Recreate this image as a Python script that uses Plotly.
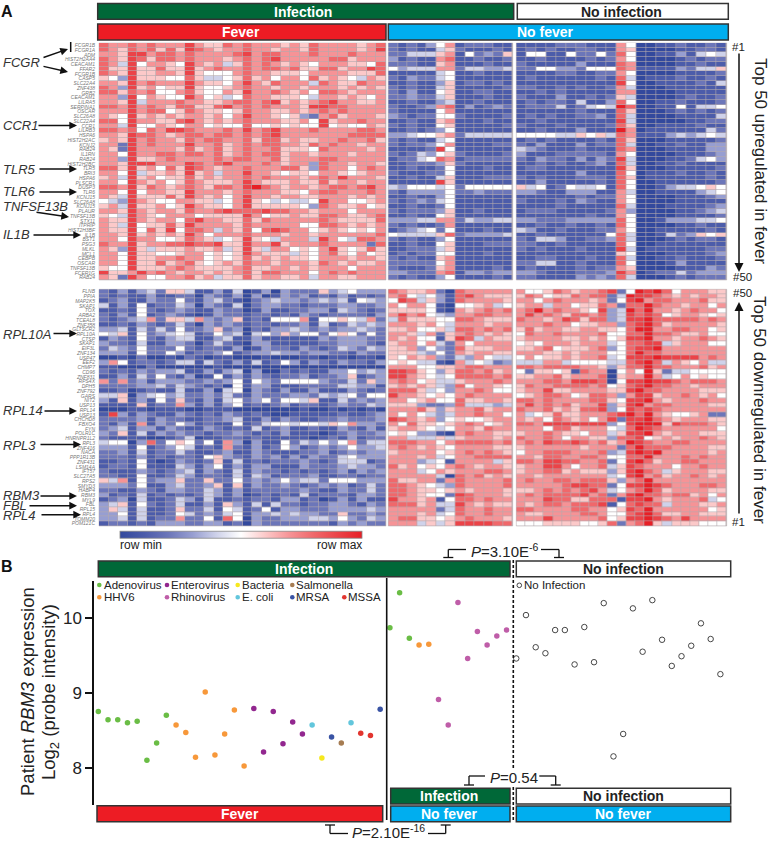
import plotly.graph_objects as go

W, H = 769, 842
FONT = "Liberation Sans"

UP_GENES = ["FCGR1B","FCGR1A","ADM","HIST2H2AA4","CEACAM1","FFAR2","FCGR1B","CASP5","SLC22A4","ZNF438",
            "GRB2","CEACAM1","LILRA5","SERPINA1","OSCAR","SLC26A8","SLC22A4","CCR1","LILRB3","HSPA6",
            "HIST2H2AC","KCNJ2","RAB24","IL1RN","RAB24","HIST2H2BC","TLR5","BRI3","HSPA6","PLSCR1",
            "DUSP3","TLR6","KCNJ15","SLC26A8","KCNJ15","PLAUR","TNFSF13B","STX11","ITPRIP","HIST2H3BF",
            "IL1B","BST1","PSG3","MLKL","MCL1","CEBPB","OSCAR","TNFSF13B","FCER1G","RAB24"]
DOWN_GENES = ["FLNB","PPIA","MAP2K5","SKAP1","TOX","ARBA2","TCEAL8","ZNF358","GLTSCR2","RPL10A",
              "CTSP","SKAP1","EIF3L","ZNF134","USP47","EEF2","CHMP7","CD96","ZNF831","RPS4X",
              "DPH5","ZNF792","GARS","NIT2","USP13","RPL14","USP13","CHCHD8","FBXO4","FYN",
              "POLR1C","HNRNPR1L2","RPL3","ZNF416","NACA","PPP1R13B","ZNF431","LSM14A","IFT57","SLC27A5",
              "RPS2","SMYD3","HABP4","RBM3","MYL9","FBL","RPL15","RPL4","TOMM20","POM121C"]

# Heat levels: 0 = row min (blue), 5 = white, a = row max (red)
UP_FEVER = [
"87787 87779 76687 87776 76877 77678",
"87687 86869 87677 87767 76877 77679",
"77699 78878 77778 97887 77877 78777",
"87698 68878 77767 87897 77778 86777",
"87495 77659 76746 87876 76577 76658",
"86696 68669 67877 87887 86688 67798",
"87696 67769 65557 87766 65777 76668",
"65396 66558 64456 86757 75867 65476",
"77697 87779 76657 97687 77487 66877",
"87396 75669 65567 87767 76777 67676",
"88687 85578 65576 97787 67588 76777",
"77395 76559 75645 87766 65477 67657",
"77694 77787 76678 87896 76789 77667",
"88797 87688 66897 87877 76998 87777",
"77797 88568 76656 87766 76787 87777",
"76596 76767 76757 97765 63278 67776",
"88597 76689 76767 87776 67596 77877",
"77495 57657 75655 85565 65595 65576",
"88785 87998 77787 97897 77877 77887",
"77698 87678 87887 87897 77777 78888",
"67697 87768 78877 86886 76677 87786",
"77297 87779 77867 87887 76878 77677",
"76297 77768 67867 87786 66587 77767",
"77597 78878 87867 87886 77677 76777",
"77396 67877 77878 87786 77788 77777",
"77699 97779 87897 77876 77387 76776",
"88696 75869 87677 87778 86387 75787",
"77594 66769 67477 97765 66577 65677",
"67496 75668 67677 87877 76787 97776",
"77597 67568 76667 97666 76686 77677",
"88796 87678 76887 9a876 77678 87897",
"77595 77669 77767 87776 65788 77787",
"76496 66869 76757 97767 76677 76767",
"54397 65577 66457 96545 44597 75567",
"67496 67569 76657 96666 65387 66756",
"77697 67768 77898 88988 77677 75777",
"65497 65777 56666 97566 76688 76678",
"76697 67758 97766 86877 77787 66668",
"76495 66869 77776 87777 75588 76767",
"76695 86958 87476 85898 77567 65657",
"77696 76769 75777 87776 77677 77778",
"77597 75568 76456 96547 77497 54887",
"87796 77889 88966 97796 77787 77728",
"76396 46667 66746 96477 56579 65686",
"77596 65567 75656 97666 46578 65756",
"77596 67787 75656 86767 66577 76776",
"77596 68678 65676 87767 77687 67667",
"65596 66787 66667 86677 67677 75777",
"96679 78767 76767 86887 77578 78777",
"76297 55778 67466 86776 67477 66777",
]
UP_NOFEVER = [
"21213 57122 211",
"21211 46211 121",
"22444 67152 326",
"31211 78112 112",
"22211 67111 211",
"53444 77244 334",
"11111 45112 111",
"21322 45111 111",
"11211 36122 121",
"21211 46111 112",
"21311 56112 211",
"22322 46111 211",
"11211 34112 111",
"21123 78131 232",
"21111 57111 111",
"32122 55211 112",
"11211 67111 211",
"21211 56111 112",
"11212 35111 111",
"33455 67244 444",
"21211 45111 111",
"21223 57111 122",
"11112 95111 111",
"21243 56211 112",
"12245 87122 222",
"11222 36211 111",
"11211 25111 211",
"21112 25111 111",
"11211 46111 222",
"11111 96111 111",
"43555 45255 555",
"21333 35223 222",
"11211 35111 111",
"21232 45111 111",
"11211 25111 111",
"21222 36112 111",
"11211 56111 111",
"33344 77243 344",
"21211 27111 111",
"12345 25111 211",
"54444 68233 334",
"21211 35111 111",
"11211 56111 222",
"11222 46111 111",
"12122 55111 211",
"21211 67111 111",
"22222 57111 111",
"21112 67111 121",
"33222 78133 233",
"21211 35111 121",
]
UP_NOINF = [
"11112 22111 75 00112 1121",
"12121 12211 76 00001 1221",
"15511 52252 85 00113 1454",
"11211 11212 75 00001 2122",
"21111 13111 87 00001 1211",
"22553 32555 87 11113 2446",
"11112 21122 75 00001 1112",
"12111 11121 84 01112 1121",
"11111 11111 95 00111 1214",
"22112 12112 74 00011 1111",
"11212 11111 77 00001 1111",
"21113 11212 64 00001 2112",
"12122 14113 85 00112 1112",
"12224 12454 a8 00115 1445",
"11111 12111 86 00012 1212",
"12121 12231 84 00001 1114",
"11211 11111 94 00000 1122",
"21112 11112 86 00111 1211",
"11211 13111 a7 01111 1142",
"55554 46564 87 11134 3454",
"12121 11121 86 00011 1112",
"21311 13122 84 00112 1133",
"43211 12111 87 00011 1133",
"31112 22221 75 00001 1123",
"21322 13132 94 00011 2453",
"11212 11231 84 00112 1111",
"12211 11111 96 00011 1112",
"11111 13111 85 01112 1121",
"21211 12221 86 01111 1121",
"11311 11121 85 00111 1112",
"64512 54451 85 00134 4565",
"33211 33311 74 00111 1345",
"11111 12122 75 00001 1123",
"21112 13211 75 00001 1111",
"11112 11111 84 00011 1123",
"12221 11112 73 00001 1234",
"11111 11211 75 00001 1112",
"33222 33333 85 00133 3445",
"11211 21121 85 00001 1211",
"43112 11122 75 00111 1121",
"11211 11115 84 00142 3656",
"21443 11223 84 00012 1221",
"22112 11111 85 00111 1111",
"21211 12111 94 01111 1122",
"11111 11111 65 00011 1123",
"11221 11211 84 00112 1112",
"22441 12111 85 00013 1111",
"12111 12122 76 00001 1132",
"33211 12223 97 01224 2333",
"22111 13232 84 00012 1222",
]
DOWN_FEVER = [
"21313 42664 11314 01303 22263 45333",
"21211 31122 03213 03013 23121 31212",
"12311 32252 13421 02343 32343 41543",
"41315 12243 03214 02332 21222 33223",
"11215 21232 11322 01311 22331 43212",
"21315 12321 01322 12212 13212 22213",
"21234 72664 73236 12155 57155 65472",
"11213 21242 03232 12212 23141 24343",
"33414 24252 23623 02133 43232 33432",
"54615 23454 12534 04536 35525 65252",
"13215 21344 11341 13111 11132 33322",
"32214 11332 02421 03311 11122 33321",
"24325 22252 12213 01322 13212 43243",
"33315 22531 22351 23343 32332 21322",
"00102 00102 10110 00100 01101 10110",
"37512 21244 14213 14125 31321 32213",
"11000 20000 00100 00000 00000 00000",
"21213 23341 13134 03002 12113 35343",
"11314 25213 01513 13212 23122 36123",
"72723 13332 23235 15325 55532 24263",
"22223 34243 21205 13311 12222 44331",
"11201 21141 13045 03213 11311 13212",
"44603 45342 23242 13222 33243 45255",
"31613 15262 13145 23525 54611 42323",
"11116 12273 13135 12123 12212 32243",
"00011 01110 01110 00000 01001 01010",
"19313 21132 12132 12100 11111 21123",
"22223 13221 12234 11313 21122 32223",
"21317 13253 12115 12455 45546 57332",
"23413 31321 13212 14123 11211 32131",
"32614 13232 21223 21213 11101 23223",
"21111 00124 01122 12111 11012 13122",
"45503 82565 25173 03115 24353 57244",
"33315 12354 12172 13125 31232 35334",
"22314 12242 11231 13211 12231 23233",
"22213 12122 15632 13231 31322 45333",
"11215 10132 12614 12122 23212 44412",
"12215 11143 13513 13311 13222 34332",
"21113 21234 13214 13221 21212 31323",
"22115 11243 12214 14312 22311 22122",
"64715 23362 26225 23235 34425 55333",
"33325 11342 23616 13223 21232 31242",
"22113 21332 24313 12222 23211 32242",
"31214 12121 24313 01212 14122 21332",
"12304 11243 14112 12213 31201 31311",
"34615 21241 13163 14142 21223 32132",
"36414 11262 24154 12513 32223 33343",
"33514 11254 23245 13343 43322 62232",
"33414 12272 25185 03223 33443 53243",
"12212 13332 23312 03222 22221 32322",
]
DOWN_NOFEVER = [
"87667 20877 777",
"78545 31897 666",
"59846 31877 776",
"75775 10556 745",
"66665 10767 878",
"79785 43778 877",
"48666 55887 666",
"77767 54777 677",
"66755 64887 878",
"77647 26787 676",
"76755 16984 766",
"67757 42757 777",
"66735 32866 677",
"66643 52767 766",
"65767 32437 544",
"56544 10745 423",
"77755 66788 777",
"99865 36887 867",
"99765 45888 878",
"78756 44677 787",
"67676 43857 765",
"88864 53778 755",
"97765 65787 777",
"77567 55866 776",
"66632 23844 434",
"77786 36778 677",
"75754 34778 775",
"98767 35655 677",
"75866 56787 567",
"67765 45776 877",
"56533 10787 766",
"77444 64677 767",
"88877 57888 878",
"78767 65777 766",
"67777 56787 876",
"77767 45778 888",
"77734 51777 746",
"86756 57876 776",
"77745 76777 887",
"77777 40878 676",
"86677 27877 778",
"88765 43877 778",
"88766 56767 776",
"88765 52987 776",
"97767 15887 877",
"88867 44976 766",
"77777 24877 877",
"77767 45877 877",
"78866 56787 776",
"77746 46999 988",
]
DOWN_NOINF = [
"75568 76778 92 5 a9a85 777 66",
"68756 68788 24 a998 7676 776",
"77578 77767 25 9a78 8777 866",
"67747 75668 72 88a8 7767 757",
"78a78 77659 34 a8a7 7678 775",
"79787 68878 34 9898 5677 656",
"87767 98688 34 99a8 8888 787",
"77787 75667 73 89a8 6777 776",
"68677 66776 65 8aa7 7887 756",
"58778 77778 55 88a8 8766 755",
"67777 66767 56 99a7 7677 876",
"56577 76777 45 8899 4677 755",
"66785 66678 35 899a 7777 777",
"77766 76777 55 8a88 7777 777",
"57566 76778 45 999a 9999 787",
"44477 45555 44 89a8 4765 744",
"88788 88776 36 88a8 8777 867",
"52665 61877 05 75a6 2445 555",
"66778 67778 06 77a7 4575 655",
"77788 79998 05 99a9 9878 887",
"68778 88878 56 89a8 8776 777",
"67796 67777 66 9a88 7777 666",
"56788 75688 73 7996 7787 675",
"88787 77788 65 99a7 6777 877",
"79787 86779 36 9a78 8777 766",
"87786 76889 35 9898 7777 777",
"74568 66777 89 a8a7 6556 722",
"76758 76757 92 99a8 7677 766",
"88799 99999 35 9aaa 6988 876",
"77758 86777 54 8a98 7777 775",
"67787 66577 46 99a7 6777 666",
"87787 57766 38 8956 7677 876",
"78798 89878 67 a987 7887 777",
"67777 77677 72 8a88 8777 766",
"57788 87778 34 9a9a 7777 767",
"77688 77887 55 88a7 7787 877",
"88799 88778 25 9a86 7788 777",
"67799 75778 46 9877 7577 877",
"67788 67666 36 9a87 4677 766",
"77677 77777 45 9a78 6778 767",
"78778 87888 63 78a7 7777 777",
"77777 89988 25 99a9 8777 887",
"66787 87897 45 78a8 6777 766",
"78788 88978 27 9a88 7886 757",
"77798 86688 81 99a7 6777 845",
"76788 78889 15 8988 4777 667",
"88777 78877 56 98a7 7777 756",
"76677 77887 55 89a8 6677 666",
"77797 77778 56 99a9 8797 777",
"55566 66556 82 78a6 4666 555",
]

SAMPLE_GROUP = (["Adenovirus"]*8 + ["HHV6"]*8 + ["Enterovirus"]*6 +
                ["E. coli","Bacteria","MRSA","Salmonella","E. coli","MSSA","MSSA","MRSA"] +
                ["Adenovirus"]*3 + ["HHV6"]*2 + ["Rhinovirus"]*8 + ["No Infection"]*22)
RBM3 = [8.75,8.64,8.64,8.60,8.62,8.10,8.33,8.70,
        8.57,8.47,8.14,9.01,8.17,8.45,8.77,8.02,
        8.79,8.21,8.75,8.32,8.61,8.45,
        8.57,8.13,8.41,8.33,8.60,8.46,8.43,8.78,
        9.87,10.34,9.73,9.64,9.65,8.91,8.57,10.21,9.46,9.82,9.64,9.76,9.84,
        9.46,10.04,9.61,9.53,9.84,9.84,9.38,9.88,9.41,10.20,8.15,8.45,10.13,
        9.55,10.24,9.71,9.36,9.49,9.63,9.93,9.72,9.25]
GROUP_COLORS = {"Adenovirus":"#6abd45","HHV6":"#f7983a","Enterovirus":"#92278f","Rhinovirus":"#bf5da8",
                "Bacteria":"#f6e81e","E. coli":"#62c6dc","Salmonella":"#a67c52","MRSA":"#3953a4",
                "MSSA":"#e2352f"}
BLUE_RED = [[0,"#33499d"],[.1,"#4c5caa"],[.2,"#6c76b9"],[.3,"#979ed1"],[.4,"#cfd2ea"],[.5,"#ffffff"],
            [.6,"#fcc9c9"],[.7,"#f69396"],[.8,"#f0686b"],[.9,"#eb4348"],[1,"#e71f26"]]


def grid(rows):
    return [[int(c, 16) for c in r.replace(" ", "")] for r in rows]


def px(x):
    return x / W


def py(y):
    return 1 - y / H


fig = go.Figure()
shapes, annots = [], []


def rect(x0, y0, x1, y1, fill, line="#333333", lw=1.5):
    shapes.append(dict(type="rect", xref="paper", yref="paper", x0=px(x0), x1=px(x1), y0=py(y0), y1=py(y1),
                       fillcolor=fill, line=dict(color=line, width=lw), layer="below"))


def seg(x0, y0, x1, y1, color="#111111", lw=1.3, dash=None):
    shapes.append(dict(type="line", xref="paper", yref="paper", x0=px(x0), x1=px(x1), y0=py(y0), y1=py(y1),
                       line=dict(color=color, width=lw, dash=dash or "solid")))


def text(x, y, s, size, anchor="center", color="#222222", angle=0, yanchor="middle"):
    annots.append(dict(xref="paper", yref="paper", x=px(x), y=py(y), text=s, showarrow=False, xanchor=anchor,
                       yanchor=yanchor, textangle=angle, borderpad=0, borderwidth=0,
                       font=dict(family=FONT, size=size, color=color)))


def arrow(x0, y0, x1, y1, width=1.4, size=1.1):
    annots.append(dict(xref="paper", yref="paper", x=px(x1), y=py(y1), ax=x0 - x1, ay=y0 - y1, text="",
                       axref="pixel", ayref="pixel", showarrow=True, arrowhead=2, arrowsize=size,
                       arrowwidth=width, arrowcolor="#111111", standoff=0))


GREEN, RED, CYAN = "#006838", "#ed1c24", "#00aeef"


def bar(x0, y0, x1, y1, fill, label, cx=None):
    rect(x0, y0, x1, y1, fill)
    col = "#222222" if fill == "#ffffff" else "#ffffff"
    text(cx if cx else (x0 + x1) / 2, (y0 + y1) / 2 + .3, f"<b>{label}</b>", 14, color=col)


# Header bars of panel A
bar(97.7, 3.5, 513.7, 19.3, GREEN, "Infection", 303)
bar(517.3, 3.5, 728.3, 19.3, "#ffffff", "No infection", 621)
bar(97.7, 24, 386, 40, RED, "Fever", 241)
bar(388.3, 24, 728.3, 40, CYAN, "No fever", 545)

# Heat maps
PANELS_X = [(99, 386), (388.3, 512.7), (516.3, 726.7)]
PANELS_Y = [(43, 280), (289.3, 526)]
DATA = [[UP_FEVER, UP_NOFEVER, UP_NOINF], [DOWN_FEVER, DOWN_NOFEVER, DOWN_NOINF]]
GENES = [UP_GENES, DOWN_GENES]
layout_axes = {}
n = 0
for r, (y0, y1) in enumerate(PANELS_Y):
    for c, (x0, x1) in enumerate(PANELS_X):
        n += 1
        z = grid(DATA[r][c])
        suf = "" if n == 1 else str(n)
        rect(x0, y0, x1, y1, "#b3a9ad", line="#b3a9ad", lw=0.5)
        fig.add_trace(go.Heatmap(z=z, coloraxis="coloraxis", xgap=0.6, ygap=0.6, xaxis="x" + suf, yaxis="y" + suf,
                                 showscale=False, hoverinfo="skip"))
        layout_axes["xaxis" + suf] = dict(domain=[px(x0), px(x1)], range=[-.5, len(z[0]) - .5], visible=False,
                                          anchor="y" + suf)
        yax = dict(domain=[py(y1), py(y0)], range=[49.5, -.5], anchor="x" + suf, showgrid=False, zeroline=False,
                   showline=False, ticks="")
        if c == 0:
            yax.update(tickmode="array", tickvals=list(range(50)), ticktext=GENES[r], ticklabelstandoff=3,
                       tickfont=dict(family=FONT, size=5, color="#777777", style="italic"))
        else:
            yax.update(visible=False)
        layout_axes["yaxis" + suf] = yax

# Gene callouts
for label, lx, ly, a in [
    ("FCGR", 2.5, 62, None),
    ("CCR1", 2.5, 125.5, (37, 125.5, 77, 125.5)),
    ("TLR5", 2.5, 169, (38, 169, 77, 169)),
    ("TLR6", 2.5, 192, (38, 192, 77, 192)),
    ("TNFSF13B", 2.5, 206, (35, 212, 69, 217)),
    ("IL1B", 2.5, 234.5, (32, 235, 81, 235)),
    ("RPL10A", 2.5, 334, (52, 333.5, 77, 333.5)),
    ("RPL14", 2.5, 411, (43, 411, 77, 411)),
    ("RPL3", 2.5, 445, (39, 444.5, 81, 444.5)),
    ("RBM3", 2.5, 495.5, (39, 496, 77, 496)),
    ("FBL", 2.5, 505, (28, 505.7, 77, 505.7)),
    ("RPL4", 2.5, 515, (40, 514.7, 81, 514.7)),
]:
    text(lx, ly, f"<i>{label}</i>", 13, anchor="left", color="#333333")
    if a:
        arrow(*a)
arrow(42, 58, 68, 49)
arrow(42, 66, 68, 72)
seg(70.7, 42, 70.7, 52, lw=1.5)

# Right side of panel A
text(738, 47, "#1", 11.5)
arrow(739, 52, 739, 272, width=1.5, size=1.2)
text(742, 276.5, "#50", 11.5)
text(760, 161, "Top 50 upregulated in fever", 17, angle=90)
text(742, 292.5, "#50", 11.5)
arrow(739, 515, 739, 302, width=1.5, size=1.2)
text(738, 521.5, "#1", 11.5)
text(760, 410, "Top 50 downregulated in fever", 17, angle=90)

text(1, 11.5, "<b>A</b>", 16, anchor="left", color="#111111")
text(1, 566, "<b>B</b>", 16, anchor="left", color="#111111")

# Colour bar labels
text(120, 544.5, "row min", 12, anchor="left")
text(362, 544.5, "row max", 12, anchor="right")

# Panel B bars
bar(98.3, 561, 510, 576.7, GREEN, "Infection", 304)
bar(516.3, 561, 730.7, 576.7, "#ffffff", "No infection", 623)
bar(97, 805.7, 382.7, 821.7, RED, "Fever", 240)
bar(390.7, 788.3, 510, 804, GREEN, "Infection", 449)
bar(516.3, 788.3, 730.7, 804, "#ffffff", "No infection", 623)
bar(390.7, 806, 510, 821.7, CYAN, "No fever", 449)
bar(516.3, 806, 730.7, 821.7, CYAN, "No fever", 623.5)

seg(386.7, 578, 386.7, 820, lw=1.6)
seg(513.3, 560, 513.3, 768, lw=1.6, dash="3px,2px")
seg(513.3, 787, 513.3, 822, lw=1.6, dash="3px,2px")

# Scatter
X0, DX = 98.3, 9.72
SX0, SX1, SY0, SY1 = 94.3, 730.0, 580.7, 805.0
xs = list(range(len(RBM3)))
for g, col in GROUP_COLORS.items():
    idx = [i for i in xs if SAMPLE_GROUP[i] == g]
    fig.add_trace(go.Scatter(x=idx, y=[RBM3[i] for i in idx], mode="markers", name=g, xaxis="x7", yaxis="y7",
                             cliponaxis=False, marker=dict(size=5.5, color=col, line=dict(width=0)), showlegend=False))
idx = [i for i in xs if SAMPLE_GROUP[i] == "No Infection"]
fig.add_trace(go.Scatter(x=idx, y=[RBM3[i] for i in idx], mode="markers", name="No Infection", xaxis="x7", yaxis="y7",
                         cliponaxis=False, showlegend=False,
                         marker=dict(size=5.5, color="rgba(255,255,255,0)", line=dict(width=0.9, color="#333333"))))
layout_axes["xaxis7"] = dict(domain=[px(SX0), px(SX1)], range=[(SX0 - X0) / DX, (SX1 - X0) / DX], visible=False,
                             anchor="y7")
layout_axes["yaxis7"] = dict(domain=[py(SY1), py(SY0)], range=[7.5, 10.5], anchor="x7", tickvals=[8, 9, 10],
                             ticks="outside", ticklen=7, tickwidth=2, tickcolor="#111111", showline=True, linewidth=2,
                             linecolor="#111111", showgrid=False, zeroline=False,
                             tickfont=dict(family=FONT, size=17, color="#222222"))

# Legend of panel B
for name, dx, tx, ly in [("Adenovirus", 99.3, 104, 585), ("HHV6", 99.3, 104, 597.3),
                         ("Enterovirus", 167, 171, 585), ("Rhinovirus", 167, 171, 597.3),
                         ("Bacteria", 237.7, 242.3, 585), ("E. coli", 237.7, 242.3, 597.3),
                         ("Salmonella", 292.3, 296, 585), ("MRSA", 292.3, 296, 597.3),
                         ("MSSA", 344.3, 348.3, 597.3), ("No Infection", 519.3, 523.7, 585.3)]:
    open_dot = name == "No Infection"
    shapes.append(dict(type="circle", xref="paper", yref="paper", x0=px(dx - 2.3), x1=px(dx + 2.3), y0=py(ly + 2.3),
                       y1=py(ly - 2.3), fillcolor="rgba(0,0,0,0)" if open_dot else GROUP_COLORS[name],
                       line=dict(width=.9 if open_dot else 0, color="#333333")))
    text(tx, ly, name, 11.5, anchor="left")

# Axis titles of panel B
text(27, 692, "Patient <i>RBM3</i> expression", 18.5, angle=-90)
text(50, 692, "Log<sub>2</sub> (probe intensity)", 18.5, angle=-90)


def bracket(xs_top, foot_y, top_y, foot_half=5):
    xv, xe = xs_top
    seg(xv, top_y, xe, top_y)
    seg(xv, top_y, xv, foot_y)
    seg(xv - foot_half, foot_y, xv + foot_half, foot_y)


text(505, 550, "<i>P</i>=3.10E<sup>-6</sup>", 15)
bracket((448.3, 466), 557.5, 549.5)
bracket((559, 541), 557.5, 549.5)
text(513.6, 777.5, "<i>P</i>=0.54", 15)
bracket((469, 485), 785, 776)
bracket((555.7, 539.3), 785, 776)
text(388.5, 831.5, "<i>P</i>=2.10E<sup>-16</sup>", 15)
bracket((330, 348), 825, 833.5)
bracket((445.7, 428), 825, 833.5)

fig.update_layout(
    width=W, height=H, margin=dict(l=0, r=0, t=0, b=0), paper_bgcolor="white", plot_bgcolor="rgba(0,0,0,0)",
    showlegend=False, font=dict(family=FONT), shapes=shapes, annotations=annots,
    coloraxis=dict(cmin=0, cmax=10, colorscale=BLUE_RED,
                   colorbar=dict(orientation="h", x=px(120), xanchor="left", y=py(538.5), yanchor="bottom",
                                 lenmode="pixels", len=242, thicknessmode="pixels", thickness=6.5, xpad=0, ypad=0,
                                 outlinewidth=.8, outlinecolor="#888888", ticks="", showticklabels=False)),
    **layout_axes)
fig.write_html("out.html", post_script="document.body.style.margin='0';", config={"displayModeBar": False})
